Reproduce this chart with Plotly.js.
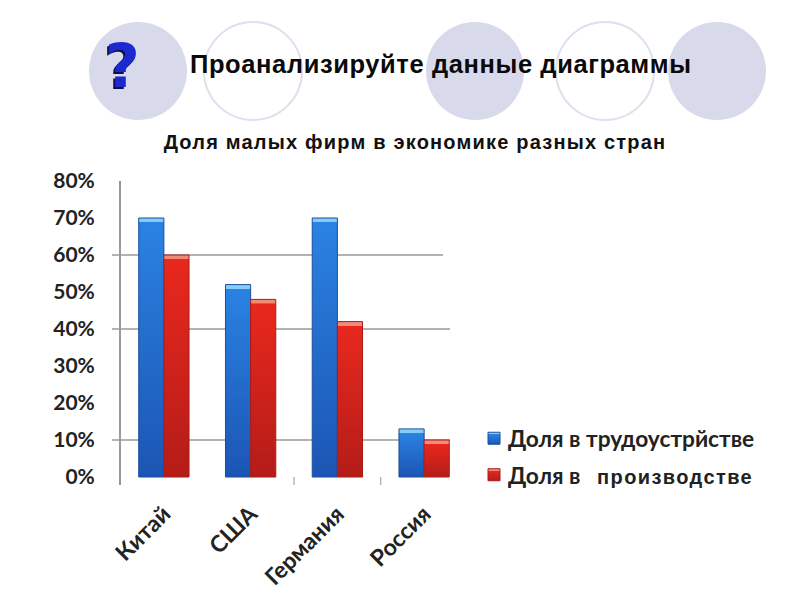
<!DOCTYPE html>
<html><head><meta charset="utf-8">
<script src="https://cdn.plot.ly/plotly-3.0.1.min.js"></script>
<style>html,body{margin:0;padding:0;background:#fff}#c{width:800px;height:600px}</style>
</head><body><div id="c"></div>
<script>
const categories = ['Китай','США','Германия','Россия'];
const employment = [0.70,0.52,0.70,0.13];
const production = [0.60,0.48,0.42,0.10];
const yTicks = [0,0.1,0.2,0.3,0.4,0.5,0.6,0.7,0.8];
const gridValues = [0.1,0.4,0.6];
const tickBoundaries = [1.5,2.5];
const nameEmployment = 'Доля в трудоустрйстве';
const nameProduction = "Доля в   <span style='font-family:Liberation Sans;font-size:20px;letter-spacing:1.4px'>производстве</span>";
const heading = "<span style='letter-spacing:0.6px'>Проанализируйте данные диаграммы</span>";
const subtitle = "<span style='letter-spacing:1.2px'>Доля малых фирм в экономике разных стран</span>";
const W=800,H=600;
const circle=(cx,cy,r,filled)=>({type:'circle',xref:'paper',yref:'paper',layer:'below',
  x0:(cx-r)/W,x1:(cx+r)/W,y0:1-(cy+r)/H,y1:1-(cy-r)/H,
  fillcolor:filled?'#d9d9ec':'rgba(0,0,0,0)',line:{color:filled?'rgba(0,0,0,0)':'#dfdfee',width:filled?0:2}});
const shapes=[circle(138,71,49,true),circle(253,71,49,false),circle(475,71,49,true),circle(605,71,49,false),circle(717,71,49,true)];
gridValues.forEach(v=>shapes.push({type:'line',xref:'paper',yref:'y',layer:'below',
  x0:112/W,x1:(v===0.6?443:450)/W,y0:v,y1:v,line:{color:'#9a9a9a',width:1.5}}));
tickBoundaries.forEach(b=>shapes.push({type:'line',xref:'x',yref:'paper',layer:'below',
  x0:b,x1:b,y0:115/H,y1:123/H,line:{color:'#9a9a9a',width:1}}));
const fontX={family:'Lato, Open Sans, sans-serif',size:23,color:'#222',weight:700};
const fontY={family:'Lato, Open Sans, sans-serif',size:21,color:'#222',weight:700};
const data=[
 {type:'bar',name:nameEmployment,x:categories,y:employment,legendgroup:'a',marker:{color:'#2277d8',line:{color:'#1a4f9c',width:1}}},
 {type:'bar',name:nameProduction,x:categories,y:production,legendgroup:'b',marker:{color:'#e0241c',line:{color:'#a81c18',width:1}}}
];
const layout={
 width:W,height:H,paper_bgcolor:'#fff',plot_bgcolor:'rgba(0,0,0,0)',
 margin:{l:0,r:0,t:0,b:0},barmode:'group',bargap:0.42,bargroupgap:0,showlegend:true,
 title:{text:subtitle,x:415/W,xanchor:'center',y:1-142/H,yanchor:'middle',
   font:{family:'Liberation Sans, Arial, sans-serif',size:20,weight:700,color:'#111'}},
 xaxis:{domain:[120.5/W,467.5/W],range:[-0.5,3.5],type:'category',showline:false,showgrid:false,zeroline:false,
   ticks:'',tickangle:-45,tickfont:fontX,ticklabelstandoff:10,automargin:false},
 yaxis:{domain:[115/H,419/H],range:[-8/370,0.8],tickvals:yTicks,tickformat:'.0%',showgrid:false,zeroline:false,
   showline:true,linecolor:'#9a9a9a',linewidth:1.5,ticks:'',tickfont:fontY,ticklabelstandoff:20,automargin:false},
 legend:{x:474/W,y:1-417/H,xanchor:'left',yanchor:'top',bgcolor:'rgba(0,0,0,0)',traceorder:'grouped',
   font:{family:'Lato, Open Sans, sans-serif',size:22.7,color:'#222',weight:700},tracegroupgap:4,itemwidth:30},
 shapes:shapes,
 annotations:[
  {xref:'paper',yref:'paper',x:441/W,y:1-64/H,text:heading,showarrow:false,xanchor:'center',yanchor:'middle',
   font:{family:'Liberation Sans, Arial, sans-serif',size:25.5,weight:700,color:'#0a0a0a'}},
  {xref:'paper',yref:'paper',x:122/W,y:1-66/H,text:'?',showarrow:false,xanchor:'center',yanchor:'middle',
   font:{family:'DejaVu Sans, Liberation Sans, sans-serif',size:60,weight:700,color:'#1c28d0',shadow:'-2px 2px 0 #101050'}}
 ]
};
const svgNS='http://www.w3.org/2000/svg';
function paint(gd){
  const svg=gd.querySelector('svg.main-svg');
  const defs=document.createElementNS(svgNS,'defs');svg.insertBefore(defs,svg.firstChild);
  let n=0;
  const ramps=[['#84cdf6','#2a82e2','#1c55b4'],['#f28a78','#e8281e','#b41c18']];
  const grad=(p,r,cap)=>{
    const h=Math.max(p.getBBox().height,1),g=document.createElementNS(svgNS,'linearGradient');
    g.id='bg'+(n++);g.setAttribute('x1','0');g.setAttribute('x2','0');g.setAttribute('y1','0');g.setAttribute('y2','1');
    const c=Math.min(cap/h,0.3);
    [[0,r[0]],[c,r[0]],[c+0.001,r[1]],[1,r[2]]].forEach(([o,col])=>{
      const s=document.createElementNS(svgNS,'stop');s.setAttribute('offset',o);s.setAttribute('stop-color',col);g.appendChild(s);});
    defs.appendChild(g);p.style.fill='url(#'+g.id+')';
  };
  gd.querySelectorAll('.barlayer .trace').forEach((t,i)=>t.querySelectorAll('.point path').forEach(p=>grad(p,ramps[i],4)));
  gd.querySelectorAll('.legend .traces').forEach((t,i)=>{
    t.querySelectorAll('.legendpoints path').forEach(p=>grad(p,ramps[i],2));
    t.querySelectorAll('.legendtext').forEach(x=>{x.setAttribute('x',+x.getAttribute('x')-6);
      x.querySelectorAll('tspan[x]').forEach(s=>s.setAttribute('x',+s.getAttribute('x')-6));});
  });
}
Plotly.newPlot('c',data,layout,{displayModeBar:false,staticPlot:true}).then(paint);
</script></body></html>
